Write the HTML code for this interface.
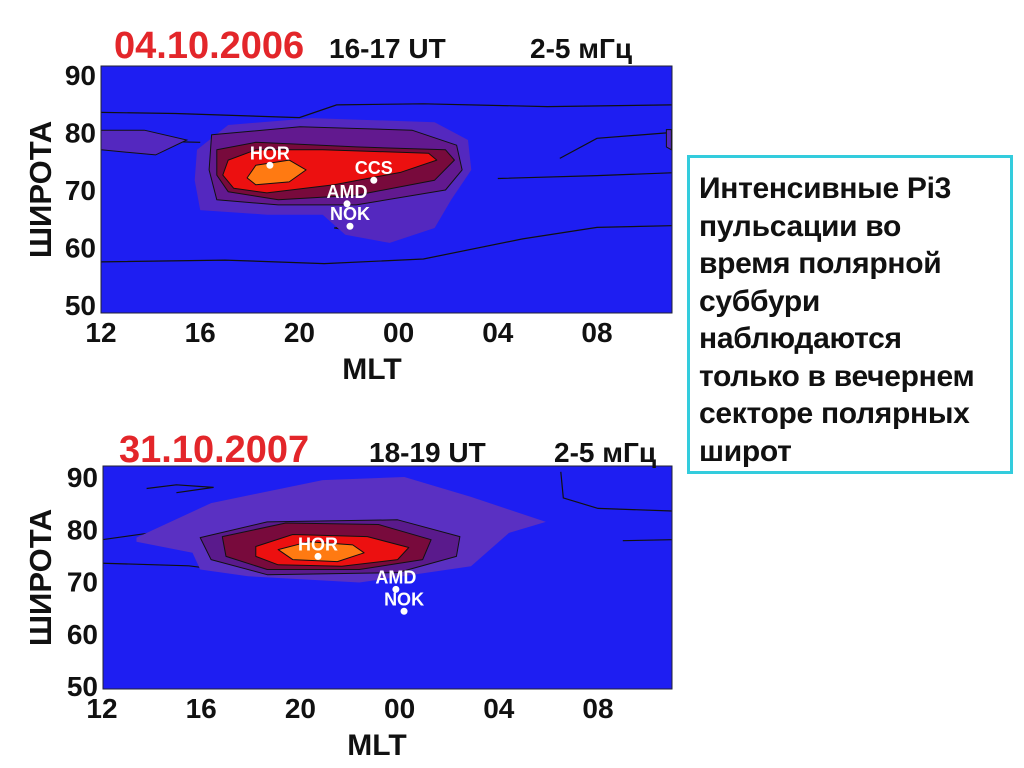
<!DOCTYPE html>
<html><head><meta charset="utf-8">
<style>
body{margin:0;background:#fff;width:1024px;height:768px;overflow:hidden;font-family:"Liberation Sans",sans-serif;}
svg{position:absolute;left:0;top:0}
#box{position:absolute;left:687px;top:155px;width:320px;height:313px;border:3px solid #33ccdd;box-sizing:content-box}
#box p{margin:0;position:absolute;left:9px;top:12px;font:bold 30px/37.5px "Liberation Sans",sans-serif;color:#111;white-space:nowrap;letter-spacing:-0.3px}
</style></head><body>
<svg id="chart" width="1024" height="768">
<g id="p1"></g>
<g id="p2"></g>
</svg>
<div id="box"><p>Интенсивные Pi3<br>пульсации во<br>время полярной<br>суббури<br>наблюдаются<br>только в вечернем<br>секторе полярных<br>широт</p></div>
<script>
const xTicks=["12","16","20","00","04","08"];
const xTickHours=[0,4,8,12,16,20];
const yTicks=[90,80,70,60,50];
const colors=["#5428bf","#62198f","#780a3c","#ec1010","#ff7a12"];
const p1Levels=[
[[3.87,77.0],[5.13,81.3],[8.5,82.5],[13.45,81.8],[14.8,78.7],[14.93,73.5],[14.12,68.3],[13.45,63.4],[11.64,60.8],[9.85,62.2],[8.94,65.7],[6.69,65.7],[4.0,66.5],[3.78,71.7]],
[[4.46,79.6],[8.03,81.0],[12.54,80.4],[14.34,77.8],[14.56,73.5],[13.89,70.0],[10.29,67.4],[7.15,67.4],[4.67,68.3],[4.36,73.5]],
[[4.67,77.0],[6.24,78.3],[10.29,77.5],[13.89,77.0],[14.25,75.2],[13.45,71.7],[10.29,69.1],[7.15,68.3],[5.13,69.7],[4.67,72.6]],
[[5.13,75.2],[6.24,77.0],[8.94,77.0],[13.21,76.4],[13.54,75.2],[12.1,73.1],[9.4,70.9],[6.69,69.5],[5.35,70.3],[4.91,72.6]],
[[6.24,74.3],[7.59,75.2],[8.27,73.5],[7.59,71.4],[6.24,70.9],[5.89,72.1]]];
const p1Extra=[
[0,[[0,80.4],[1.75,80.4],[3.46,78.7],[2.2,76.1],[0,77.0]]],
[0,[[22.8,80.5],[23,80.5],[23,77],[22.8,77.5]]],
[2,[[9.4,63.4],[11.19,64.8],[13.21,63.4],[11.19,62.2]]]];
const p1Lines=[
[[0,83.5],[3,83.3],[8,82.6],[9.5,84.8],[13,85],[18,84.5],[23,84.8]],
[[0,57.5],[5,57.8],[9,57.2],[13,58],[17,61.5],[20,63.5],[23,63.8]],
[[0,78.7],[4,78.3]],[[18.5,75.5],[20,79],[23,80]],[[16,72],[20,72.5],[23,73]]];
const p1Stations=[["HOR",6.81,74.3],["CCS",11.0,71.7],["AMD",9.92,67.6],["NOK",10.04,63.7]];
const p2Levels=[
[[1.39,78.4],[4.4,85.0],[8.9,89.4],[12.19,90],[14.88,86.2],[17.9,81.4],[16.41,79.3],[14.88,72.9],[10.38,69.8],[5.89,71.0],[3.96,72.3],[3.65,75.5],[1.39,77.6]],
[[3.96,78.4],[6.66,81.4],[11.92,81.8],[14.43,78.6],[14.29,74.8],[11.92,71.7],[6.66,71.3],[4.4,74.2]],
[[4.85,78.6],[7.41,81.2],[11.15,80.9],[13.27,78.0],[12.93,74.2],[10.38,72.3],[6.66,72.3],[5.0,74.8]],
[[6.2,76.7],[7.69,79.0],[10.7,78.6],[12.37,76.5],[11.92,74.2],[9.67,72.9],[7.1,73.2],[6.2,74.8]],
[[7.1,76.1],[8.32,77.6],[10.11,77.0],[10.57,75.5],[9.49,73.8],[7.69,74.2]]];
const p2Lines=[
[[0,78],[3,80],[6,82.5],[9,84],[13,84],[16,80],[14,73],[10,70.5],[6,71.5],[3.5,73],[0,73.5]],
[[3,87],[4.5,88],[3,88.5],[1.8,87.8]],[[18.5,91],[18.6,86],[20,84],[23,83.5]],[[21,77.8],[23,78]]];
const p2Stations=[["HOR",8.71,74.8],["AMD",11.85,68.5],["NOK",12.18,64.3]];

const NS="http://www.w3.org/2000/svg";
function mk(parent,tag,attrs,text){const e=document.createElementNS(NS,tag);for(const k in attrs)e.setAttribute(k,attrs[k]);if(text!==undefined)e.textContent=text;parent.appendChild(e);return e;}

function drawPlot(g,cfg){
  const X=h=>cfg.x0+h*cfg.xs, Y=l=>cfg.y90+(90-l)*cfg.ys;
  const pts=a=>a.map(p=>X(p[0]).toFixed(1)+","+Y(p[1]).toFixed(1)).join(" ");
  const cid="clip"+cfg.id;
  const cp=mk(g,"clipPath",{id:cid});mk(cp,"rect",{x:cfg.left,y:cfg.top,width:cfg.right-cfg.left,height:cfg.bottom-cfg.top});
  const bg=mk(g,"rect",{x:cfg.left,y:cfg.top,width:cfg.right-cfg.left,height:cfg.bottom-cfg.top,fill:"#1e1ef2"});
  
  
  const cg=mk(g,"g",{"clip-path":"url(#"+cid+")"});
  cfg.lines.forEach(l=>{const e=mk(cg,"polyline",{points:pts(l),fill:"none",stroke:"#111","stroke-width":1.2});
    
    });
  (cfg.extra||[]).forEach(([lv,a])=>{const e=mk(cg,"polygon",{points:pts(a),fill:colors[lv],stroke:"#111","stroke-width":1});
    
    });
  cfg.levels.forEach((a,i)=>{const e=mk(cg,"polygon",{points:pts(a),fill:cfg.cols[i],stroke:"#111","stroke-width":i==0?0:1,"stroke-linejoin":"round"});
    
    });
  cfg.stations.forEach(s=>{
    const c=mk(g,"circle",{cx:X(s[1]),cy:Y(s[2]),r:3.5,fill:"#fff"});
    
    
    const t=mk(g,"text",{x:X(s[1]),y:Y(s[2])-6,"text-anchor":"middle","font-size":18,"font-weight":"bold",fill:"#fff"},s[0]);
    
    
  });
  const fr=mk(g,"rect",{x:cfg.left,y:cfg.top,width:cfg.right-cfg.left,height:cfg.bottom-cfg.top,fill:"none",stroke:"#223","stroke-width":1});
  
  
  xTicks.forEach((lab,i)=>{const t=mk(g,"text",{x:X(xTickHours[i]),y:cfg.bottom+29,"text-anchor":"middle","font-size":28,"font-weight":"bold",fill:"#111"},lab);
    
    });
  yTicks.forEach(v=>{const t=mk(g,"text",{x:cfg.left-5,y:Y(v)+10,"text-anchor":"end","font-size":28,"font-weight":"bold",fill:"#111"},v);
    
    });
  const xt=mk(g,"text",{x:cfg.mltX,y:cfg.bottom+66,"text-anchor":"middle","font-size":30,"font-weight":"bold",fill:"#111"},"MLT");
  
  
  const yc=(cfg.top+cfg.bottom)/2;
  const yt=mk(g,"text",{x:51,y:yc,transform:"rotate(-90 51 "+yc+")","text-anchor":"middle","font-size":31,"font-weight":"bold",fill:"#111"},"ШИРОТА");
  
  
  const d=mk(g,"text",{x:cfg.dateX,y:cfg.titleY,"font-size":38,"font-weight":"bold",fill:"#e3262a"},cfg.date);
  
  
  const u=mk(g,"text",{x:cfg.utX,y:cfg.titleY,"font-size":28,"font-weight":"bold",fill:"#111"},cfg.ut);
  
  
  const f=mk(g,"text",{x:cfg.fX,y:cfg.titleY,"font-size":28,"font-weight":"bold",fill:"#111"},"2-5 мГц");
  
  
}
drawPlot(document.getElementById("p1"),{id:1,x0:101,xs:24.8,y90:75,ys:5.75,left:101,right:672,top:66,bottom:313,
  levels:p1Levels,cols:colors,extra:p1Extra,lines:p1Lines,stations:p1Stations,mltX:372,
  date:"04.10.2006",dateX:114,utX:329,fX:530,titleY:58,ut:"16-17 UT"});
drawPlot(document.getElementById("p2"),{id:2,x0:102,xs:24.8,y90:477,ys:5.225,left:103,right:672,top:466,bottom:689,
  levels:p2Levels,cols:["#5a30c2","#5a1a8c","#780a3c","#ec1010","#ff7a12"],extra:[],lines:p2Lines,stations:p2Stations,mltX:377,
  date:"31.10.2007",dateX:119,utX:369,fX:554,titleY:462,ut:"18-19 UT"});
</script>
</body></html>
